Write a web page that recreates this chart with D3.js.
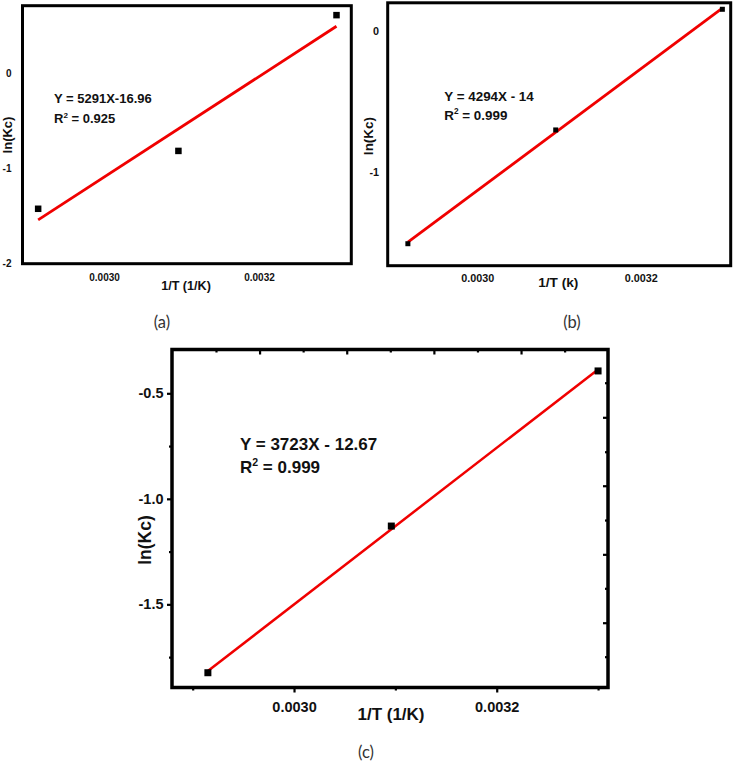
<!DOCTYPE html>
<html>
<head>
<meta charset="utf-8">
<script src="https://cdn.jsdelivr.net/npm/d3@7/dist/d3.min.js"></script>
<style>
  html, body { margin: 0; padding: 0; background: #fff; }
  svg { display: block; }
</style>
</head>
<body>
<svg id="chart" width="733" height="768"></svg>
<script>
// ---------------- DATA ----------------
const invT = [0.002915, 0.003096, 0.003300];          // 1/T values (shared)
const lnKcA = [-1.424, -0.817, 0.607];
const lnKcB = [-1.511, -0.704, 0.152];
const lnKcC = [-1.824, -1.129, -0.394];
const fitA = [-1.54, 0.49];                             // fitted line at first/last 1/T
const fitB = [-1.50, 0.16];
const fitC = [-1.816, -0.387];
const xTickLabels = [0.0030, 0.0032];
const yTicksA = [0, -1, -2];
const yTicksB = [0, -1];
const yTicksC = [-0.5, -1.0, -1.5];
const yMinorC = [-0.75, -1.25, -1.75];
const xMinorC = [0.0029, 0.0031, 0.0033];
const topMajorC = [0.002966, 0.003052, 0.003138, 0.003224];
const topMinorC = [0.002923, 0.003009, 0.003095, 0.003181, 0.003267];
const rightMajorC = [-0.6137, -0.9379, -1.263, -1.587];
const rightMinorC = [-0.4498, -0.7768, -1.1005, -1.424, -1.748];
const equations = ["Y = 5291X-16.96", "Y = 4294X - 14", "Y = 3723X - 12.67"];
const r2Values = ["0.925", "0.999", "0.999"];
const xTitles = ["1/T (1/K)", "1/T (k)", "1/T (1/K)"];
const yTitle = "ln(Kc)";
const captions = ["(a)", "(b)", "(c)"];

// ---------------- LAYOUT ----------------
const svg = d3.select("#chart");
const FONT = "'Liberation Sans', Arial, sans-serif";
const hyph = f => v => f(v).replace("\u2212", "-");

const panels = [
  { // (a)
    box: {x0: 22.5, x1: 351.3, y0: 5.7, y1: 263.7},
    xDom: [0.0028948, 0.0033191], yDom: [0.706, -2.0],
    ys: lnKcA, fit: fitA, yTicks: yTicksA, yFmt: hyph(d3.format("d")),
    tickFont: 10, yPad: 11, xPad: 10.7, frameW: 3,
    eq: equations[0], r2: r2Values[0], eqX: 54, eqY: 103, r2Y: 123, eqFont: 13,
    xTitle: xTitles[0], xtX: 186, xtY: 289.5, xtFont: 12.6,
    ytX: 12, ytY: 135, ytFont: 13,
    marker: 6.5, lineW: 2.8,
    cap: captions[0], capX: 162, capY: 328
  },
  { // (b)
    box: {x0: 387.7, x1: 730.7, y0: 2.8, y1: 265.7},
    xDom: [0.0028903, 0.0033102], yDom: [0.198, -1.667],
    ys: lnKcB, fit: fitB, yTicks: yTicksB, yFmt: hyph(d3.format("d")),
    tickFont: 10.8, yPad: 8.7, xPad: 8.8, frameW: 3,
    eq: equations[1], r2: r2Values[1], eqX: 444.3, eqY: 101, r2Y: 119.5, eqFont: 13.4,
    xTitle: xTitles[1], xtX: 558.3, xtY: 287, xtFont: 13.6,
    ytX: 373, ytY: 136, ytFont: 13.5,
    marker: 5, lineW: 2.8,
    cap: captions[1], capX: 572, capY: 328
  },
  { // (c)
    box: {x0: 172, x1: 608, y0: 349.5, y1: 687.5},
    xDom: [0.0028796, 0.0033098], yDom: [-0.2924, -1.894],
    ys: lnKcC, fit: fitC, yTicks: yTicksC, yFmt: hyph(d3.format(".1f")),
    tickFont: 14.5, yPad: 3.5, xPad: 9, frameW: 3.5,
    eq: equations[2], r2: r2Values[2], eqX: 240, eqY: 449.5, r2Y: 472.5, eqFont: 17,
    xTitle: xTitles[2], xtX: 391, xtY: 720, xtFont: 17,
    ytX: 150.5, ytY: 540, ytFont: 17.5,
    marker: 7, lineW: 2.5,
    cap: captions[2], capX: 366, capY: 758,
    ticks: true
  }
];

panels.forEach(p => {
  const b = p.box;
  const x = d3.scaleLinear().domain(p.xDom).range([b.x0, b.x1]);
  const y = d3.scaleLinear().domain(p.yDom).range([b.y0, b.y1]);
  const g = svg.append("g");

  const tickLen = p.ticks ? 5 : 0;

  const ax = g.append("g").attr("transform", `translate(0,${b.y1})`)
    .call(d3.axisBottom(x).tickValues(xTickLabels).tickFormat(d3.format(".4f"))
      .tickSize(tickLen).tickPadding(p.xPad));
  const ay = g.append("g").attr("transform", `translate(${b.x0},0)`)
    .call(d3.axisLeft(y).tickValues(p.yTicks).tickFormat(p.yFmt)
      .tickSize(tickLen).tickPadding(p.yPad));

  [ax, ay].forEach(a => {
    a.select(".domain").remove();
    a.selectAll("text").attr("font-family", FONT).attr("font-weight", "bold")
      .attr("font-size", p.tickFont).attr("fill", "#111");
    a.selectAll("line").attr("stroke", "#000").attr("stroke-width", 2.2);
  });

  if (p.ticks) {
    const minorB = g.append("g").attr("transform", `translate(0,${b.y1})`)
      .call(d3.axisBottom(x).tickValues(xMinorC).tickSize(3).tickFormat(""));
    const minorL = g.append("g").attr("transform", `translate(${b.x0},0)`)
      .call(d3.axisLeft(y).tickValues(yMinorC).tickSize(3).tickFormat(""));
    const topMaj = g.append("g").attr("transform", `translate(0,${b.y0})`)
      .call(d3.axisBottom(x).tickValues(topMajorC).tickSize(5).tickFormat(""));
    const topMin = g.append("g").attr("transform", `translate(0,${b.y0})`)
      .call(d3.axisBottom(x).tickValues(topMinorC).tickSize(3).tickFormat(""));
    const rMaj = g.append("g").attr("transform", `translate(${b.x1},0)`)
      .call(d3.axisLeft(y).tickValues(rightMajorC).tickSize(5).tickFormat(""));
    const rMin = g.append("g").attr("transform", `translate(${b.x1},0)`)
      .call(d3.axisLeft(y).tickValues(rightMinorC).tickSize(3).tickFormat(""));
    [minorB, minorL, topMaj, topMin, rMaj, rMin].forEach(a => {
      a.select(".domain").remove();
      a.selectAll("line").attr("stroke", "#000").attr("stroke-width", 2.2);
    });
  }

  g.append("rect")
    .attr("x", b.x0).attr("y", b.y0)
    .attr("width", b.x1 - b.x0).attr("height", b.y1 - b.y0)
    .attr("fill", "none").attr("stroke", "#000").attr("stroke-width", p.frameW);

  const fitPts = [[invT[0], p.fit[0]], [invT[invT.length - 1], p.fit[1]]];
  g.append("path")
    .attr("d", d3.line().x(d => x(d[0])).y(d => y(d[1]))(fitPts))
    .attr("stroke", "#f00000").attr("stroke-width", p.lineW).attr("fill", "none");

  g.selectAll("rect.pt").data(invT.map((t, i) => [t, p.ys[i]])).join("rect")
    .attr("class", "pt")
    .attr("x", d => x(d[0]) - p.marker / 2).attr("y", d => y(d[1]) - p.marker / 2)
    .attr("width", p.marker).attr("height", p.marker).attr("fill", "#000");

  g.append("text").attr("x", p.eqX).attr("y", p.eqY)
    .attr("font-family", FONT).attr("font-weight", "bold").attr("font-size", p.eqFont)
    .attr("fill", "#111").text(p.eq);
  const r2 = g.append("text").attr("x", p.eqX).attr("y", p.r2Y)
    .attr("font-family", FONT).attr("font-weight", "bold").attr("font-size", p.eqFont)
    .attr("fill", "#111");
  r2.append("tspan").text("R");
  r2.append("tspan").attr("font-size", p.eqFont * 0.62).attr("dy", -p.eqFont * 0.38).text("2");
  r2.append("tspan").attr("dy", p.eqFont * 0.38).text(" = " + p.r2);

  g.append("text").attr("x", p.xtX).attr("y", p.xtY).attr("text-anchor", "middle")
    .attr("font-family", FONT).attr("font-weight", "bold").attr("font-size", p.xtFont)
    .attr("fill", "#111").text(p.xTitle);
  g.append("text")
    .attr("transform", `translate(${p.ytX},${p.ytY}) rotate(-90)`)
    .attr("text-anchor", "middle")
    .attr("font-family", FONT).attr("font-weight", "bold").attr("font-size", p.ytFont)
    .attr("fill", "#111").text(yTitle);

  svg.append("text").attr("x", p.capX).attr("y", p.capY).attr("text-anchor", "middle")
    .attr("font-family", "Lato, 'Open Sans', sans-serif").attr("font-size", 16.5)
    .attr("fill", "#333").text(p.cap);
});
</script>
</body>
</html>
